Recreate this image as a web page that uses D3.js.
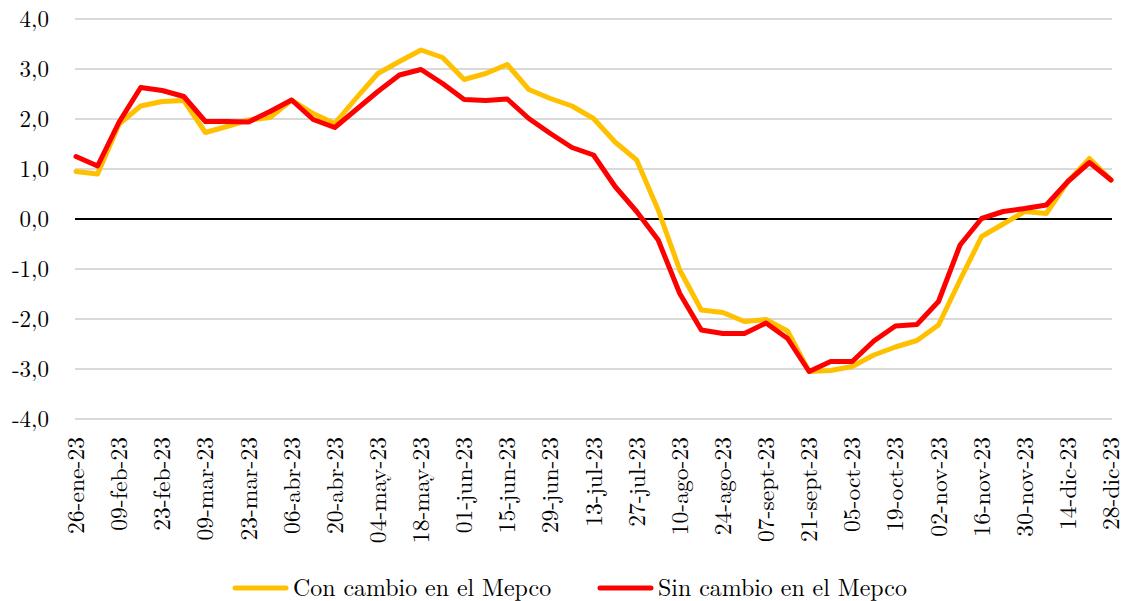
<!DOCTYPE html>
<html><head><meta charset="utf-8">
<script src="https://cdn.jsdelivr.net/npm/d3@7"></script>
<style>body{margin:0;background:#fff}svg{display:block}</style>
</head><body>
<script>
const weeks = ["26-ene-23","02-feb-23","09-feb-23","16-feb-23","23-feb-23","02-mar-23","09-mar-23","16-mar-23","23-mar-23","30-mar-23","06-abr-23","13-abr-23","20-abr-23","27-abr-23","04-may-23","11-may-23","18-may-23","25-may-23","01-jun-23","08-jun-23","15-jun-23","22-jun-23","29-jun-23","06-jul-23","13-jul-23","20-jul-23","27-jul-23","03-ago-23","10-ago-23","17-ago-23","24-ago-23","31-ago-23","07-sept-23","14-sept-23","21-sept-23","28-sept-23","05-oct-23","12-oct-23","19-oct-23","26-oct-23","02-nov-23","09-nov-23","16-nov-23","23-nov-23","30-nov-23","07-dic-23","14-dic-23","21-dic-23","28-dic-23"];
const conCambio = [0.95,0.90,1.90,2.26,2.35,2.37,1.73,1.85,1.98,2.03,2.38,2.11,1.91,2.42,2.91,3.15,3.38,3.23,2.79,2.91,3.09,2.59,2.41,2.26,2.01,1.54,1.18,0.18,-1.02,-1.82,-1.87,-2.05,-2.01,-2.24,-3.05,-3.03,-2.95,-2.72,-2.56,-2.43,-2.12,-1.22,-0.35,-0.10,0.15,0.11,0.75,1.21,0.78];
const sinCambio = [1.25,1.06,1.94,2.63,2.57,2.45,1.95,1.95,1.94,2.15,2.38,1.99,1.83,2.19,2.55,2.88,2.99,2.71,2.39,2.37,2.40,2.01,1.71,1.43,1.28,0.65,0.15,-0.42,-1.49,-2.22,-2.29,-2.29,-2.08,-2.39,-3.05,-2.85,-2.85,-2.44,-2.14,-2.11,-1.65,-0.52,0.01,0.15,0.21,0.28,0.75,1.13,0.78];
const yTicks = [4,3,2,1,0,-1,-2,-3,-4];
const seriesNames = ["Con cambio en el Mepco","Sin cambio en el Mepco"];
const colors = ["#FFC000","#FF0000"];

const W = 1124, H = 601;
const FONT = '"Latin Modern Roman", "Liberation Serif", serif';
const svg = d3.select("body").append("svg").attr("width", W).attr("height", H);

const x = d3.scalePoint().domain(weeks).range([76, 1111]);
const y = d3.scaleLinear().domain([-4, 4]).range([419, 19]);

// grid
svg.append("g").selectAll("line").data(yTicks.filter(d => d !== 0)).join("line")
  .attr("x1", 75).attr("x2", 1112)
  .attr("y1", d => y(d)).attr("y2", d => y(d))
  .attr("stroke", "#d9d9d9").attr("stroke-width", 2);

// y axis labels
const yAxis = d3.axisLeft(y).tickValues(yTicks).tickSize(0).tickPadding(0)
  .tickFormat(d => d3.format(".1f")(d).replace(".", ",").replace("−", "-"));
const gy = svg.append("g").attr("transform", "translate(49,0)").call(yAxis);
gy.select(".domain").remove();
gy.selectAll("text").style("font-family", FONT).attr("font-size", 23).attr("fill", "#000").attr("dy", "0.32em");

// x axis labels
const xAxis = d3.axisBottom(x).tickValues(weeks.filter((d, i) => i % 2 === 0)).tickSize(0).tickPadding(0);
const gx = svg.append("g").attr("transform", "translate(0,437)").call(xAxis);
gx.select(".domain").remove();
gx.selectAll("text")
  .style("font-family", FONT).attr("font-size", 23.6).attr("fill", "#000")
  .attr("transform", "rotate(-90)")
  .attr("text-anchor", "end")
  .attr("x", 0).attr("y", 0).attr("dy", "0.32em");

// zero line
svg.append("line").attr("x1", 75).attr("x2", 1112).attr("y1", y(0)).attr("y2", y(0))
  .attr("stroke", "#000").attr("stroke-width", 2);

// lines
const line = d3.line().x((d, i) => x(weeks[i])).y(d => y(d));
[conCambio, sinCambio].forEach((s, k) => {
  svg.append("path").datum(s).attr("d", line)
    .attr("fill", "none").attr("stroke", colors[k]).attr("stroke-width", 5)
    .attr("stroke-linejoin", "round").attr("stroke-linecap", "round");
});

// legend
const legX = [233, 598];
seriesNames.forEach((n, k) => {
  const g = svg.append("g").attr("transform", `translate(${legX[k]},588)`);
  g.append("line").attr("x1", 2).attr("x2", 53).attr("y1", 0).attr("y2", 0)
    .attr("stroke", colors[k]).attr("stroke-width", 5).attr("stroke-linecap", "round");
  g.append("text").attr("x", 60).attr("y", 0).attr("dy", "0.32em")
    .style("font-family", FONT).attr("font-size", 23.9).attr("fill", "#000").text(n);
});
</script>
</body></html>
